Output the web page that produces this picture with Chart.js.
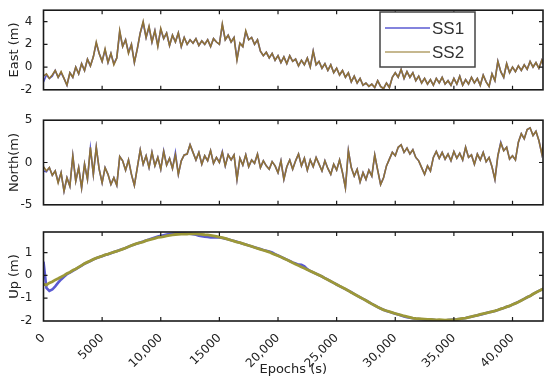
<!DOCTYPE html>
<html><head><meta charset="utf-8">
<script src="https://cdn.jsdelivr.net/npm/chart.js@4.4.0/dist/chart.umd.min.js"></script>
<style>
html,body{margin:0;padding:0;background:#fff;}
#wrap{position:relative;width:550px;height:382px;overflow:hidden;background:#fff;}
canvas{position:absolute;left:0;}
</style></head><body>
<div id="wrap">
<canvas id="c1" width="550" height="100" style="top:0px"></canvas>
<canvas id="c2" width="550" height="105" style="top:110px"></canvas>
<canvas id="c3" width="550" height="162" style="top:220px"></canvas>
</div>
<script>
// sampling interval of the series (s); each row below = 5000 s
const STEP_S = 250;
const SERIES_NAMES = ['SS1', 'SS2'];
const X_TICKS = [0, 5000, 10000, 15000, 20000, 25000, 30000, 35000, 40000];
const X_TICK_LABELS = ['0', '5000', '10,000', '15000', '20,000', '25,000', '30,000', '35,000', '40,000'];
const EAST_TICKS = [-2, 0, 2, 4];
const NORTH_TICKS = [-5, 0, 5];
const UP_TICKS = [-2, -1, 0, 1];

const EAST_SS2 = [
 -0.8,-0.6,-1.0,-0.7,-0.3,-0.9,-0.4,-1.0,-1.6,-0.5,-0.9,0.0,-0.6,0.3,-0.3,0.7,0.1,0.9,2.2,1.2,
 0.5,1.6,0.4,1.2,0.2,0.8,3.2,1.8,2.4,1.2,2.0,0.4,1.6,3.0,4.0,2.6,3.6,2.2,3.2,1.8,
 3.4,2.5,3.0,1.9,2.8,2.2,3.0,1.8,2.6,2.0,2.4,2.1,2.5,1.9,2.3,2.0,2.4,1.8,2.5,2.2,
 2.0,3.8,2.4,2.8,2.2,2.6,0.6,2.1,1.8,3.2,2.4,2.6,2.0,2.4,1.4,1.0,1.3,0.8,1.2,0.6,
 1.0,0.4,0.9,0.3,1.0,0.5,0.7,0.1,0.6,0.2,0.8,0.0,1.4,0.2,0.5,-0.1,0.3,-0.3,0.2,-0.5,
 -0.1,-0.7,-0.3,-0.9,-0.5,-1.3,-0.8,-1.4,-1.0,-1.6,-1.4,-1.7,-1.5,-1.8,-1.2,-1.7,-1.9,-1.4,-1.8,-0.9,
 -0.5,-0.9,-0.2,-1.0,-0.4,-0.9,-0.5,-1.2,-0.8,-1.4,-1.0,-1.5,-1.1,-1.6,-1.0,-1.4,-0.9,-1.5,-1.2,-1.6,
 -1.0,-1.5,-0.8,-1.6,-1.1,-1.5,-0.9,-1.4,-1.0,-1.6,-0.7,-1.3,-1.7,-0.6,-1.2,0.5,-0.4,-0.9,0.3,-0.5,
 0.0,-0.4,0.1,-0.3,0.2,-0.2,0.5,0.0,0.4,-0.1,0.6,0.0
];
const EAST_SS1 = [
 -1.3,-0.7,-1.0,-0.8,-0.3,-0.9,-0.5,-1.0,-1.6,-0.5,-0.9,0.0,-0.6,0.3,-0.3,0.7,0.1,0.9,2.1,1.2,
 0.5,1.5,0.4,1.2,0.3,0.8,3.1,1.8,2.4,1.3,2.0,0.4,1.6,3.0,3.9,2.6,3.5,2.2,3.2,1.9,
 3.3,2.5,3.0,1.9,2.8,2.2,3.0,1.8,2.6,2.0,2.4,2.1,2.5,1.9,2.3,2.0,2.4,1.8,2.5,2.2,
 2.0,3.7,2.4,2.8,2.2,2.6,0.7,2.1,1.8,3.1,2.4,2.6,2.0,2.4,1.4,1.0,1.3,0.8,1.2,0.6,
 1.0,0.4,0.9,0.3,1.0,0.5,0.7,0.1,0.6,0.2,0.8,0.0,1.4,0.2,0.5,-0.1,0.3,-0.3,0.2,-0.5,
 -0.1,-0.7,-0.3,-0.9,-0.5,-1.3,-0.8,-1.4,-1.0,-1.6,-1.4,-1.7,-1.5,-1.8,-1.2,-1.7,-1.9,-1.4,-1.8,-0.9,
 -0.5,-0.9,-0.2,-1.0,-0.4,-0.9,-0.5,-1.2,-0.8,-1.4,-1.0,-1.5,-1.1,-1.6,-1.0,-1.4,-0.9,-1.5,-1.2,-1.6,
 -1.0,-1.5,-0.8,-1.6,-1.1,-1.5,-0.9,-1.4,-1.0,-1.6,-0.7,-1.3,-1.7,-0.6,-1.2,0.5,-0.4,-0.9,0.3,-0.5,
 0.0,-0.4,0.1,-0.3,0.2,-0.2,0.5,0.0,0.4,-0.1,0.6,0.0
];
const NORTH_SS2 = [
 -0.5,-1.0,-0.6,-1.5,-1.0,-2.4,-1.2,-3.4,-1.8,-2.8,0.8,-2.2,-0.6,-3.0,-0.2,-2.0,1.8,-1.4,1.8,-0.8,
 -2.4,-0.6,-1.4,-2.6,-1.8,-2.7,0.7,0.2,-0.9,0.3,-1.4,-2.7,-0.6,1.5,-0.2,0.8,-0.6,1.2,-0.4,0.6,
 -0.8,1.3,-0.3,0.5,-0.7,0.9,-1.4,0.2,0.9,1.0,2.1,1.2,0.3,1.2,-0.2,0.8,0.2,1.4,-0.1,0.6,
 0.0,1.2,-0.4,0.9,0.3,0.9,-2.0,0.5,-0.3,0.9,-0.5,0.3,-0.1,1.0,-0.6,0.2,-0.4,-0.8,0.1,-0.4,
 -1.2,0.2,-2.0,-0.5,0.3,-0.8,0.2,1.0,-0.4,0.5,-0.9,0.3,-0.5,0.6,-0.2,-1.0,0.2,-0.7,-1.4,-0.2,
 -0.9,0.3,-1.2,-3.0,1.4,-0.6,-1.6,-0.8,-2.3,-1.2,-2.0,-0.9,-1.6,0.9,-0.9,-2.6,-1.8,-0.4,0.4,1.2,
 0.8,1.8,2.1,1.2,1.7,1.0,1.5,0.6,0.2,-0.6,-1.4,-0.4,-1.0,0.6,1.3,0.5,1.2,0.4,1.0,0.2,
 1.3,0.5,1.1,0.3,1.8,0.6,0.9,-0.2,1.0,0.3,1.2,0.1,0.6,-0.5,-2.0,0.8,2.3,1.4,1.8,0.4,
 0.8,0.3,2.4,3.4,2.8,3.9,4.1,3.2,3.7,2.6,1.0,3.1
];
const NORTH_SS1 = [
 -1.0,-1.1,-0.6,-1.5,-1.0,-2.3,-1.2,-3.4,-1.8,-2.8,0.8,-2.2,-0.6,-3.0,-0.2,-2.0,1.7,-1.4,1.8,-0.8,
 -2.4,-0.6,-1.4,-2.6,-1.8,-2.7,0.7,0.2,-0.9,0.3,-1.4,-2.7,-0.6,1.5,-0.2,0.8,-0.6,1.2,-0.4,0.6,
 -0.8,1.4,-0.3,0.5,-0.7,1.2,-1.4,0.2,0.9,1.0,2.1,1.2,0.3,1.2,-0.2,0.8,0.2,1.4,-0.1,0.6,
 0.0,1.3,-0.4,0.9,0.3,0.9,-2.0,0.5,-0.3,0.9,-0.5,0.3,-0.1,1.0,-0.6,0.2,-0.4,-0.8,0.1,-0.4,
 -1.2,0.2,-2.0,-0.5,0.3,-0.8,0.2,1.0,-0.4,0.5,-0.9,0.3,-0.5,0.6,-0.2,-1.0,0.2,-0.7,-1.4,-0.2,
 -0.9,0.3,-1.2,-3.0,1.4,-0.6,-1.6,-0.8,-2.3,-1.2,-2.0,-0.9,-1.6,0.9,-0.9,-2.6,-1.8,-0.4,0.4,1.2,
 0.8,1.8,2.1,1.2,1.7,1.0,1.5,0.6,0.2,-0.6,-1.4,-0.4,-1.0,0.6,1.3,0.5,1.2,0.4,1.0,0.2,
 1.3,0.5,1.1,0.3,1.8,0.6,0.9,-0.2,1.0,0.3,1.2,0.1,0.6,-0.5,-2.0,0.8,2.4,1.4,1.8,0.4,
 0.8,0.3,2.4,3.4,2.8,3.9,4.1,3.2,3.7,2.6,1.0,3.1
];
const UP_SS2 = [
 -0.40,-0.42,-0.33,-0.28,-0.20,-0.14,-0.07,0.00,0.08,0.14,0.22,0.28,0.36,0.44,0.52,0.58,0.64,0.70,0.76,0.80,
 0.85,0.90,0.93,0.98,1.02,1.06,1.10,1.15,1.20,1.25,1.31,1.36,1.40,1.43,1.47,1.52,1.55,1.59,1.62,1.66,
 1.68,1.70,1.73,1.75,1.77,1.79,1.80,1.81,1.82,1.81,1.83,1.82,1.82,1.81,1.80,1.78,1.77,1.75,1.73,1.71,
 1.68,1.65,1.62,1.58,1.54,1.50,1.46,1.43,1.39,1.35,1.31,1.27,1.22,1.18,1.14,1.10,1.06,1.02,0.96,0.91,
 0.86,0.80,0.74,0.68,0.62,0.55,0.49,0.43,0.37,0.31,0.25,0.19,0.13,0.07,0.01,-0.05,-0.13,-0.19,-0.26,-0.33,
 -0.40,-0.47,-0.53,-0.60,-0.67,-0.75,-0.82,-0.89,-0.96,-1.03,-1.10,-1.18,-1.25,-1.32,-1.39,-1.45,-1.51,-1.55,-1.59,-1.63,
 -1.67,-1.71,-1.74,-1.78,-1.81,-1.84,-1.87,-1.89,-1.90,-1.91,-1.92,-1.93,-1.93,-1.94,-1.95,-1.94,-1.95,-1.96,-1.95,-1.95,
 -1.94,-1.93,-1.91,-1.89,-1.87,-1.84,-1.81,-1.78,-1.75,-1.71,-1.68,-1.65,-1.62,-1.59,-1.56,-1.52,-1.47,-1.43,-1.38,-1.34,
 -1.28,-1.23,-1.17,-1.10,-1.03,-0.96,-0.90,-0.82,-0.75,-0.68,-0.62,-0.57
];
const UP_SS1 = [
 0.60,-0.55,-0.68,-0.62,-0.48,-0.32,-0.18,-0.06,0.05,0.12,0.20,0.27,0.35,0.43,0.51,0.57,0.63,0.70,0.75,0.80,
 0.84,0.89,0.93,0.97,1.02,1.06,1.11,1.15,1.20,1.26,1.31,1.35,1.40,1.44,1.48,1.53,1.57,1.62,1.66,1.70,
 1.73,1.76,1.79,1.81,1.83,1.84,1.84,1.85,1.84,1.83,1.82,1.80,1.78,1.74,1.71,1.69,1.68,1.66,1.66,1.67,
 1.66,1.64,1.61,1.58,1.54,1.51,1.47,1.43,1.39,1.35,1.31,1.27,1.23,1.19,1.15,1.11,1.08,1.05,1.00,0.93,
 0.87,0.81,0.75,0.69,0.63,0.57,0.52,0.47,0.46,0.40,0.27,0.19,0.13,0.07,0.01,-0.05,-0.12,-0.19,-0.26,-0.33,
 -0.40,-0.47,-0.54,-0.60,-0.67,-0.74,-0.82,-0.89,-0.96,-1.03,-1.10,-1.17,-1.25,-1.32,-1.39,-1.45,-1.51,-1.56,-1.60,-1.64,
 -1.68,-1.72,-1.76,-1.80,-1.84,-1.86,-1.88,-1.90,-1.91,-1.92,-1.93,-1.93,-1.94,-1.95,-1.97,-2.00,-2.01,-1.99,-1.96,-1.95,
 -1.94,-1.93,-1.91,-1.89,-1.87,-1.84,-1.81,-1.78,-1.75,-1.72,-1.69,-1.65,-1.62,-1.59,-1.56,-1.52,-1.47,-1.43,-1.38,-1.34,
 -1.28,-1.22,-1.16,-1.10,-1.03,-0.96,-0.90,-0.82,-0.75,-0.68,-0.62,-0.56
];

const X_MIN = 0, X_MAX = 42600;
const BLUE = '#5a5ad2';
const OLIVE_DARK = '#8f7236';
const OLIVE_UP = '#9c9838';
const OLIVE_LEGEND = '#b3a06a';
const TICK_FONT = {family: 'DejaVu Sans', size: 12};
const TITLE_FONT = {family: 'DejaVu Sans', size: 13};

function pts(arr) { return arr.map((v, i) => ({x: i * STEP_S, y: v})); }

const frameTicks = {
  id: 'frameTicks',
  afterDatasetsDraw(chart) {
    const {ctx, chartArea: a, scales: {x, y}} = chart;
    const L = 4;
    ctx.save();
    ctx.strokeStyle = '#1a1a1a';
    ctx.lineWidth = 1.2;
    ctx.beginPath();
    y.ticks.forEach(t => {
      const py = y.getPixelForValue(t.value);
      if (py <= a.top + 1 || py >= a.bottom - 1) return;
      ctx.moveTo(a.left, py); ctx.lineTo(a.left + L, py);
      ctx.moveTo(a.right, py); ctx.lineTo(a.right - L, py);
    });
    X_TICKS.forEach(v => {
      const px = x.getPixelForValue(v);
      if (px <= a.left + 1 || px >= a.right - 1) return;
      ctx.moveTo(px, a.top); ctx.lineTo(px, a.top + L);
      ctx.moveTo(px, a.bottom); ctx.lineTo(px, a.bottom - L);
    });
    ctx.stroke();
    ctx.lineWidth = 1.6;
    ctx.strokeRect(a.left, a.top, a.right - a.left, a.bottom - a.top);
    ctx.restore();
  }
};

const boxLegend = {
  id: 'boxLegend',
  afterDraw(chart) {
    const {ctx} = chart;
    const bx = 380, by = 12, bw = 95, bh = 55;
    ctx.save();
    ctx.fillStyle = '#fff';
    ctx.fillRect(bx, by, bw, bh);
    ctx.strokeStyle = '#444';
    ctx.lineWidth = 1.5;
    ctx.strokeRect(bx, by, bw, bh);
    ctx.font = '17px "Liberation Sans", Arial, sans-serif';
    ctx.textBaseline = 'middle';
    ctx.fillStyle = '#333';
    chart.data.datasets.forEach((ds, i) => {
      const ly = by + 16 + i * 24;
      ctx.strokeStyle = ds.legendColor || ds.borderColor;
      ctx.lineWidth = 1.6;
      ctx.beginPath(); ctx.moveTo(bx + 5, ly); ctx.lineTo(bx + 50, ly); ctx.stroke();
      ctx.fillText(ds.label, bx + 52, ly + 1);
    });
    ctx.restore();
  }
};

function makeChart(id, opts) {
  const yTicks = opts.yTicks;
  return new Chart(document.getElementById(id), {
    type: 'line',
    data: {
      datasets: [
        {label: SERIES_NAMES[0], data: pts(opts.s1), borderColor: BLUE, borderWidth: opts.lw1, pointRadius: 0, tension: 0, legendColor: BLUE, order: 2},
        {label: SERIES_NAMES[1], data: pts(opts.s2), borderColor: opts.c2, borderWidth: opts.lw2, pointRadius: 0, tension: 0, legendColor: OLIVE_LEGEND, order: 1}
      ]
    },
    options: {
      responsive: false,
      animation: false,
      events: [],
      layout: {padding: opts.padding},
      plugins: {legend: {display: false}, tooltip: {enabled: false}},
      scales: {
        x: {
          type: 'linear', min: X_MIN, max: X_MAX,
          display: opts.showX,
          grid: {display: false},
          border: {display: false},
          afterBuildTicks: s => { s.ticks = X_TICKS.map(v => ({value: v})); },
          afterFit: s => { if (opts.showX) s.height = opts.xHeight; },
          ticks: {
            font: TICK_FONT, color: '#222', minRotation: 45, maxRotation: 45, padding: 2,
            autoSkip: false,
            callback: (v, i) => X_TICK_LABELS[i]
          },
          title: {display: opts.showX, text: 'Epochs (s)', font: TITLE_FONT, color: '#222', padding: {top: 0, bottom: 5}}
        },
        y: {
          min: opts.ymin, max: opts.ymax,
          grid: {display: false},
          border: {display: false},
          afterBuildTicks: s => { s.ticks = yTicks.map(v => ({value: v})); },
          afterFit: s => { s.width = 43.5; },
          ticks: {font: TICK_FONT, color: '#222', padding: 3},
          title: {display: true, text: opts.ytitle, font: TITLE_FONT, color: '#222', padding: {top: 7, bottom: 0}}
        }
      }
    },
    plugins: opts.legend ? [frameTicks, boxLegend] : [frameTicks]
  });
}

makeChart('c1', {s1: EAST_SS1, s2: EAST_SS2, c2: OLIVE_DARK, lw1: 1.6, lw2: 1.6, yTicks: EAST_TICKS, ymin: -2, ymax: 5,
  ytitle: 'East (m)', showX: false, padding: {top: 8, right: 7, bottom: 5, left: 0}, legend: true});
makeChart('c2', {s1: NORTH_SS1, s2: NORTH_SS2, c2: OLIVE_DARK, lw1: 1.6, lw2: 1.6, yTicks: NORTH_TICKS, ymin: -5, ymax: 5,
  ytitle: 'North(m)', showX: false, padding: {top: 10, right: 7, bottom: 7, left: 0}});
makeChart('c3', {s1: UP_SS1, s2: UP_SS2, c2: OLIVE_UP, lw1: 2.6, lw2: 2.8, yTicks: UP_TICKS, ymin: -2, ymax: 1.9,
  ytitle: 'Up (m)', showX: true, xHeight: 61, padding: {top: 12, right: 7, bottom: 0, left: 0}});
</script>
</body></html>
